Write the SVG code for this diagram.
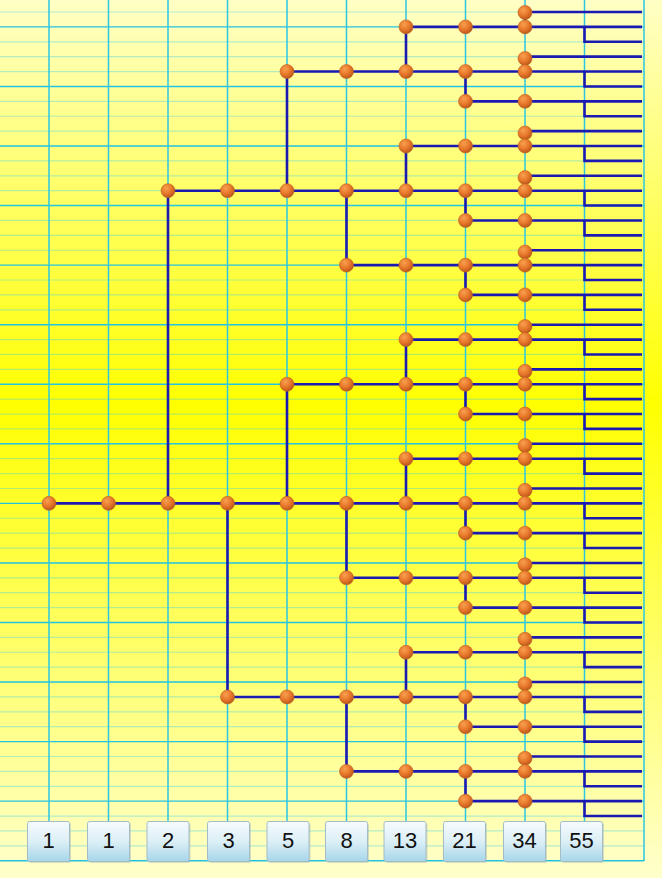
<svg xmlns="http://www.w3.org/2000/svg" width="662" height="878" viewBox="0 0 662 878">
<defs>
<linearGradient id="bg" x1="0" y1="0" x2="0" y2="1">
<stop offset="0" stop-color="#FFFFC6"/>
<stop offset="0.46" stop-color="#FFFF00"/>
<stop offset="1" stop-color="#FFFFCC"/>
</linearGradient>
<radialGradient id="og" cx="0.38" cy="0.32" r="0.7">
<stop offset="0" stop-color="#F8A050"/>
<stop offset="0.55" stop-color="#E8782A"/>
<stop offset="1" stop-color="#B8561C"/>
</radialGradient>
<linearGradient id="bx" x1="0" y1="0" x2="0" y2="1">
<stop offset="0" stop-color="#F6FBFD"/>
<stop offset="0.5" stop-color="#DCEFF6"/>
<stop offset="1" stop-color="#A6D6EA"/>
</linearGradient>
</defs>
<style>
.gs{stroke:#22C4E2;stroke-width:1.4;fill:none}
.gp{stroke:#3CCDE8;stroke-opacity:0.38;stroke-width:1.2;fill:none}
.gv{stroke:#2CC6E2;stroke-width:1.5;fill:none}
.c{stroke:#1A1AB2;stroke-width:2.6;fill:none;stroke-linejoin:miter}
.n{fill:url(#og);stroke:#C0601E;stroke-width:0.6}
.b{fill:url(#bx);stroke:#A4BCC6;stroke-width:1}
.sh{fill:#9FB4BC;opacity:0.45}
.t{font-family:"Liberation Sans",Arial,sans-serif;font-size:22px;fill:#111;text-anchor:middle}
</style>
<rect x="0" y="0" width="662" height="878" fill="url(#bg)"/>
<g id="grid">
<path class="gp" d="M0,12H644M0,41.78H644M0,56.67H644M0,71.56H644M0,101.34H644M0,116.23H644M0,131.12H644M0,160.9H644M0,175.79H644M0,190.68H644M0,220.46H644M0,235.35H644M0,250.24H644M0,280.02H644M0,294.91H644M0,309.8H644M0,339.58H644M0,354.47H644M0,369.36H644M0,399.14H644M0,414.03H644M0,428.92H644M0,458.7H644M0,473.59H644M0,488.48H644M0,518.26H644M0,533.15H644M0,548.04H644M0,577.82H644M0,592.71H644M0,607.6H644M0,637.38H644M0,652.27H644M0,667.16H644M0,696.94H644M0,711.83H644M0,726.72H644M0,756.5H644M0,771.39H644M0,786.28H644M0,816.06H644M0,830.95H644M0,845.84H644"/>
<path class="gs" d="M0,26.89H644M0,86.45H644M0,146.01H644M0,205.57H644M0,265.13H644M0,324.69H644M0,384.25H644M0,443.81H644M0,503.37H644M0,562.93H644M0,622.49H644M0,682.05H644M0,741.61H644M0,801.17H644M0,860.73H644"/>
<path class="gv" d="M49,0V861M108.5,0V861M168,0V861M227.5,0V861M287,0V861M346.5,0V861M406,0V861M465.5,0V861M525,0V861M584.5,0V861M644,0V861"/>
</g>
<g id="connectors">
<path class="c" d="M49,503.37H642"/>
<path class="c" d="M168,503.37V190.68H642"/>
<path class="c" d="M227.5,503.37V696.94H642"/>
<path class="c" d="M287,190.68V71.56H642M287,503.37V384.25H642"/>
<path class="c" d="M346.5,190.68V265.13H642M346.5,503.37V577.82H642M346.5,696.94V771.39H642"/>
<path class="c" d="M406,71.56V26.89H642M406,190.68V146.01H642M406,384.25V339.58H642M406,503.37V458.7H642M406,696.94V652.27H642"/>
<path class="c" d="M465.5,71.56V101.34H642M465.5,190.68V220.46H642M465.5,265.13V294.91H642M465.5,384.25V414.03H642M465.5,503.37V533.15H642M465.5,577.82V607.6H642M465.5,696.94V726.72H642M465.5,771.39V801.17H642"/>
<path class="c" d="M525,26.89V12H642M525,71.56V56.67H642M525,146.01V131.12H642M525,190.68V175.79H642M525,265.13V250.24H642M525,339.58V324.69H642M525,384.25V369.36H642M525,458.7V443.81H642M525,503.37V488.48H642M525,577.82V562.93H642M525,652.27V637.38H642M525,696.94V682.05H642M525,771.39V756.5H642"/>
<path class="c" d="M584.5,26.89V41.78H642M584.5,71.56V86.45H642M584.5,101.34V116.23H642M584.5,146.01V160.9H642M584.5,190.68V205.57H642M584.5,220.46V235.35H642M584.5,265.13V280.02H642M584.5,294.91V309.8H642M584.5,339.58V354.47H642M584.5,384.25V399.14H642M584.5,414.03V428.92H642M584.5,458.7V473.59H642M584.5,503.37V518.26H642M584.5,533.15V548.04H642M584.5,577.82V592.71H642M584.5,607.6V622.49H642M584.5,652.27V667.16H642M584.5,696.94V711.83H642M584.5,726.72V741.61H642M584.5,771.39V786.28H642M584.5,801.17V816.06H642"/>
</g>
<g id="nodes">
<g id="n1-r33"><circle class="n" cx="49" cy="503.37" r="7"/></g>
<g id="n2-r33"><circle class="n" cx="108.5" cy="503.37" r="7"/></g>
<g id="n3-r12"><circle class="n" cx="168" cy="190.68" r="7"/></g>
<g id="n3-r33"><circle class="n" cx="168" cy="503.37" r="7"/></g>
<g id="n4-r12"><circle class="n" cx="227.5" cy="190.68" r="7"/></g>
<g id="n4-r33"><circle class="n" cx="227.5" cy="503.37" r="7"/></g>
<g id="n4-r46"><circle class="n" cx="227.5" cy="696.94" r="7"/></g>
<g id="n5-r4"><circle class="n" cx="287" cy="71.56" r="7"/></g>
<g id="n5-r12"><circle class="n" cx="287" cy="190.68" r="7"/></g>
<g id="n5-r25"><circle class="n" cx="287" cy="384.25" r="7"/></g>
<g id="n5-r33"><circle class="n" cx="287" cy="503.37" r="7"/></g>
<g id="n5-r46"><circle class="n" cx="287" cy="696.94" r="7"/></g>
<g id="n6-r4"><circle class="n" cx="346.5" cy="71.56" r="7"/></g>
<g id="n6-r12"><circle class="n" cx="346.5" cy="190.68" r="7"/></g>
<g id="n6-r17"><circle class="n" cx="346.5" cy="265.13" r="7"/></g>
<g id="n6-r25"><circle class="n" cx="346.5" cy="384.25" r="7"/></g>
<g id="n6-r33"><circle class="n" cx="346.5" cy="503.37" r="7"/></g>
<g id="n6-r38"><circle class="n" cx="346.5" cy="577.82" r="7"/></g>
<g id="n6-r46"><circle class="n" cx="346.5" cy="696.94" r="7"/></g>
<g id="n6-r51"><circle class="n" cx="346.5" cy="771.39" r="7"/></g>
<g id="n7-r1"><circle class="n" cx="406" cy="26.89" r="7"/></g>
<g id="n7-r4"><circle class="n" cx="406" cy="71.56" r="7"/></g>
<g id="n7-r9"><circle class="n" cx="406" cy="146.01" r="7"/></g>
<g id="n7-r12"><circle class="n" cx="406" cy="190.68" r="7"/></g>
<g id="n7-r17"><circle class="n" cx="406" cy="265.13" r="7"/></g>
<g id="n7-r22"><circle class="n" cx="406" cy="339.58" r="7"/></g>
<g id="n7-r25"><circle class="n" cx="406" cy="384.25" r="7"/></g>
<g id="n7-r30"><circle class="n" cx="406" cy="458.7" r="7"/></g>
<g id="n7-r33"><circle class="n" cx="406" cy="503.37" r="7"/></g>
<g id="n7-r38"><circle class="n" cx="406" cy="577.82" r="7"/></g>
<g id="n7-r43"><circle class="n" cx="406" cy="652.27" r="7"/></g>
<g id="n7-r46"><circle class="n" cx="406" cy="696.94" r="7"/></g>
<g id="n7-r51"><circle class="n" cx="406" cy="771.39" r="7"/></g>
<g id="n8-r1"><circle class="n" cx="465.5" cy="26.89" r="7"/></g>
<g id="n8-r4"><circle class="n" cx="465.5" cy="71.56" r="7"/></g>
<g id="n8-r6"><circle class="n" cx="465.5" cy="101.34" r="7"/></g>
<g id="n8-r9"><circle class="n" cx="465.5" cy="146.01" r="7"/></g>
<g id="n8-r12"><circle class="n" cx="465.5" cy="190.68" r="7"/></g>
<g id="n8-r14"><circle class="n" cx="465.5" cy="220.46" r="7"/></g>
<g id="n8-r17"><circle class="n" cx="465.5" cy="265.13" r="7"/></g>
<g id="n8-r19"><circle class="n" cx="465.5" cy="294.91" r="7"/></g>
<g id="n8-r22"><circle class="n" cx="465.5" cy="339.58" r="7"/></g>
<g id="n8-r25"><circle class="n" cx="465.5" cy="384.25" r="7"/></g>
<g id="n8-r27"><circle class="n" cx="465.5" cy="414.03" r="7"/></g>
<g id="n8-r30"><circle class="n" cx="465.5" cy="458.7" r="7"/></g>
<g id="n8-r33"><circle class="n" cx="465.5" cy="503.37" r="7"/></g>
<g id="n8-r35"><circle class="n" cx="465.5" cy="533.15" r="7"/></g>
<g id="n8-r38"><circle class="n" cx="465.5" cy="577.82" r="7"/></g>
<g id="n8-r40"><circle class="n" cx="465.5" cy="607.6" r="7"/></g>
<g id="n8-r43"><circle class="n" cx="465.5" cy="652.27" r="7"/></g>
<g id="n8-r46"><circle class="n" cx="465.5" cy="696.94" r="7"/></g>
<g id="n8-r48"><circle class="n" cx="465.5" cy="726.72" r="7"/></g>
<g id="n8-r51"><circle class="n" cx="465.5" cy="771.39" r="7"/></g>
<g id="n8-r53"><circle class="n" cx="465.5" cy="801.17" r="7"/></g>
<g id="n9-r0"><circle class="n" cx="525" cy="12.5" r="7"/></g>
<g id="n9-r1"><circle class="n" cx="525" cy="26.89" r="7"/></g>
<g id="n9-r3"><circle class="n" cx="525" cy="58.5" r="7"/></g>
<g id="n9-r4"><circle class="n" cx="525" cy="71.56" r="7"/></g>
<g id="n9-r6"><circle class="n" cx="525" cy="101.34" r="7"/></g>
<g id="n9-r8"><circle class="n" cx="525" cy="133" r="7"/></g>
<g id="n9-r9"><circle class="n" cx="525" cy="146.01" r="7"/></g>
<g id="n9-r11"><circle class="n" cx="525" cy="177.6" r="7"/></g>
<g id="n9-r12"><circle class="n" cx="525" cy="190.68" r="7"/></g>
<g id="n9-r14"><circle class="n" cx="525" cy="220.46" r="7"/></g>
<g id="n9-r16"><circle class="n" cx="525" cy="252" r="7"/></g>
<g id="n9-r17"><circle class="n" cx="525" cy="265.13" r="7"/></g>
<g id="n9-r19"><circle class="n" cx="525" cy="294.91" r="7"/></g>
<g id="n9-r21"><circle class="n" cx="525" cy="326.5" r="7"/></g>
<g id="n9-r22"><circle class="n" cx="525" cy="339.58" r="7"/></g>
<g id="n9-r24"><circle class="n" cx="525" cy="371.2" r="7"/></g>
<g id="n9-r25"><circle class="n" cx="525" cy="384.25" r="7"/></g>
<g id="n9-r27"><circle class="n" cx="525" cy="414.03" r="7"/></g>
<g id="n9-r29"><circle class="n" cx="525" cy="445.6" r="7"/></g>
<g id="n9-r30"><circle class="n" cx="525" cy="458.7" r="7"/></g>
<g id="n9-r32"><circle class="n" cx="525" cy="490.3" r="7"/></g>
<g id="n9-r33"><circle class="n" cx="525" cy="503.37" r="7"/></g>
<g id="n9-r35"><circle class="n" cx="525" cy="533.15" r="7"/></g>
<g id="n9-r37"><circle class="n" cx="525" cy="564.8" r="7"/></g>
<g id="n9-r38"><circle class="n" cx="525" cy="577.82" r="7"/></g>
<g id="n9-r40"><circle class="n" cx="525" cy="607.6" r="7"/></g>
<g id="n9-r42"><circle class="n" cx="525" cy="639.2" r="7"/></g>
<g id="n9-r43"><circle class="n" cx="525" cy="652.27" r="7"/></g>
<g id="n9-r45"><circle class="n" cx="525" cy="683.9" r="7"/></g>
<g id="n9-r46"><circle class="n" cx="525" cy="696.94" r="7"/></g>
<g id="n9-r48"><circle class="n" cx="525" cy="726.72" r="7"/></g>
<g id="n9-r50"><circle class="n" cx="525" cy="758.3" r="7"/></g>
<g id="n9-r51"><circle class="n" cx="525" cy="771.39" r="7"/></g>
<g id="n9-r53"><circle class="n" cx="525" cy="801.17" r="7"/></g>
</g>
<g id="labels">
<g id="l1"><rect class="sh" x="29" y="823" width="42" height="40" rx="2"/><rect class="b" x="27.5" y="821.5" width="42" height="40" rx="2"/><text class="t" x="48.5" y="848">1</text></g>
<g id="l2"><rect class="sh" x="89" y="823" width="42" height="40" rx="2"/><rect class="b" x="87.5" y="821.5" width="42" height="40" rx="2"/><text class="t" x="108.5" y="848">1</text></g>
<g id="l3"><rect class="sh" x="148.5" y="823" width="42" height="40" rx="2"/><rect class="b" x="147" y="821.5" width="42" height="40" rx="2"/><text class="t" x="168" y="848">2</text></g>
<g id="l4"><rect class="sh" x="209" y="823" width="42" height="40" rx="2"/><rect class="b" x="207.5" y="821.5" width="42" height="40" rx="2"/><text class="t" x="228.5" y="848">3</text></g>
<g id="l5"><rect class="sh" x="268.5" y="823" width="42" height="40" rx="2"/><rect class="b" x="267" y="821.5" width="42" height="40" rx="2"/><text class="t" x="288" y="848">5</text></g>
<g id="l6"><rect class="sh" x="327" y="823" width="42" height="40" rx="2"/><rect class="b" x="325.5" y="821.5" width="42" height="40" rx="2"/><text class="t" x="346.5" y="848">8</text></g>
<g id="l7"><rect class="sh" x="385.5" y="823" width="42" height="40" rx="2"/><rect class="b" x="384" y="821.5" width="42" height="40" rx="2"/><text class="t" x="405" y="848">13</text></g>
<g id="l8"><rect class="sh" x="445" y="823" width="42" height="40" rx="2"/><rect class="b" x="443.5" y="821.5" width="42" height="40" rx="2"/><text class="t" x="464.5" y="848">21</text></g>
<g id="l9"><rect class="sh" x="505" y="823" width="42" height="40" rx="2"/><rect class="b" x="503.5" y="821.5" width="42" height="40" rx="2"/><text class="t" x="524.5" y="848">34</text></g>
<g id="l10"><rect class="sh" x="562" y="823" width="42" height="40" rx="2"/><rect class="b" x="560.5" y="821.5" width="42" height="40" rx="2"/><text class="t" x="581.5" y="848">55</text></g>
</g>
</svg>
